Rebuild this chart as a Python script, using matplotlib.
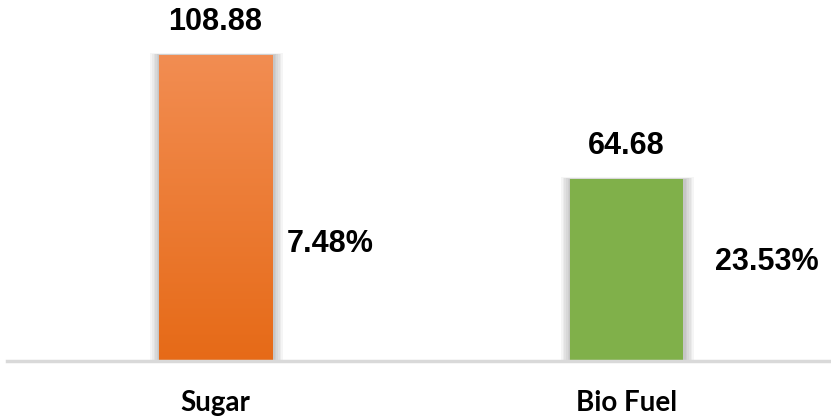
import numpy as np
import matplotlib
matplotlib.use("Agg")
import matplotlib.pyplot as plt
from matplotlib.patches import Rectangle

# data
categories = ["Sugar", "Bio Fuel"]
values = [108.88, 64.68]
growth = ["7.48%", "23.53%"]
bar_colors = ["#EC7A2E", "#80B04A"]

fig = plt.figure(figsize=(8.31, 4.17), dpi=100)
ax = fig.add_axes([7 / 831, 56 / 417, 824 / 831, 361 / 417])

x = np.arange(len(categories))
width = 0.275

# soft shadow behind bars
for xi, v in zip(x, values):
    for k in range(6):
        grow = (k + 1) * 0.004
        ax.add_patch(Rectangle((xi - width / 2 - grow + 0.003, 0), width + 2 * grow,
                               v + grow * 28, color="black", alpha=0.04, lw=0, zorder=1))

bars = ax.bar(x, values, width=width, color=bar_colors, zorder=2)

# vertical gradient on the sugar bar
b = bars[0]
grad = np.linspace(0, 1, 256).reshape(-1, 1)
cmap = matplotlib.colors.LinearSegmentedColormap.from_list("sg", ["#E66A17", "#F28D52"])
im = ax.imshow(grad, cmap=cmap, origin="lower", aspect="auto", zorder=3,
               extent=[b.get_x(), b.get_x() + b.get_width(), 0, b.get_height()])
im.set_clip_path(b)

ax.set_xlim(-0.507, 1.498)
ax.set_ylim(0, 128.5)

lab_font = dict(family="Liberation Sans", weight="bold", fontsize=22, color="black")
for xi, v in zip(x, values):
    ax.annotate(f"{v:.2f}", (xi, v), xytext=(0, 24), textcoords="offset points",
                ha="center", va="center", **lab_font)

ax.text(0.279, 41.6, growth[0], ha="center", va="center", **lab_font)
ax.text(1.342, 35.2, growth[1], ha="center", va="center", **lab_font)

ax.set_xticks(x)
ax.set_xticklabels(categories, family="Lato", weight="bold", fontsize=20)
ax.tick_params(axis="x", length=0, pad=21)
ax.set_yticks([])
for s in ["top", "left", "right"]:
    ax.spines[s].set_visible(False)
ax.spines["bottom"].set_color("#D9D9D9")
ax.spines["bottom"].set_linewidth(2.5)
ax.spines["bottom"].set_zorder(4)

fig.savefig("out.png", dpi=100)
